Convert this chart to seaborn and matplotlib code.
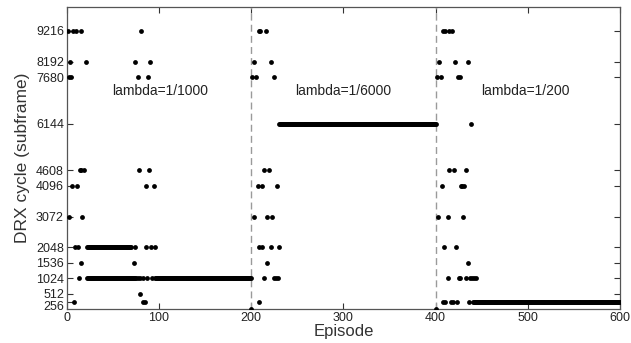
import numpy as np
import pandas as pd
import matplotlib
matplotlib.use("Agg")
import matplotlib.pyplot as plt
import matplotlib.transforms as mtransforms
import seaborn as sns

# ---- data: isolated episodes per DRX cycle value ----
ep_9216 = [1, 7, 10, 15, 81, 208, 210, 216, 408, 410, 415, 418]
ep_8192 = [4, 21, 74, 90, 203, 221, 404, 421, 435]
ep_7680 = [2, 5, 77, 88, 201, 205, 225, 402, 406, 424, 426]
ep_6144 = [438]
ep_4608 = [14, 16, 19, 78, 89, 214, 219, 415, 420, 433]
ep_4096 = [6, 11, 86, 95, 207, 212, 228, 407, 428, 429, 431]
ep_3072 = [3, 17, 203, 217, 223, 403, 413, 430]
ep_2048 = [9, 12, 74, 86, 91, 96, 209, 212, 222, 230, 409, 422]
ep_1536 = [16, 73, 217, 435]
ep_1024 = [13, 77, 80, 83, 87, 92, 214, 225, 227, 229,
           414, 425, 427, 433, 437, 439, 442, 444]
ep_512 = [80]
ep_256 = [8, 83, 85, 208, 408, 410, 417, 419, 423, 436]
ep_0 = [200, 400]

# constant stretches (converged policy)
run_start = [22, 22, 96, 230, 441]
run_end = [70, 75, 200, 400, 600]
run_value = [2048, 1024, 1024, 6144, 256]

y_ticks = [256, 512, 1024, 1536, 2048, 3072, 4096, 4608, 6144, 7680, 8192, 9216]
x_ticks = [0, 100, 200, 300, 400, 500, 600]
phase_bounds = [200, 400]
phase_labels = ["lambda=1/1000", "lambda=1/6000", "lambda=1/200"]
phase_label_x = [101, 300, 497]
phase_label_y = 7236

# ---- build table ----
rows = []
for val, eps in [(9216, ep_9216), (8192, ep_8192), (7680, ep_7680), (6144, ep_6144),
                 (4608, ep_4608), (4096, ep_4096), (3072, ep_3072), (2048, ep_2048),
                 (1536, ep_1536), (1024, ep_1024), (512, ep_512), (256, ep_256),
                 (0, ep_0)]:
    for e in eps:
        rows.append((e, val))
for s, e, v in zip(run_start, run_end, run_value):
    for ep in np.arange(s, e + 1):
        rows.append((ep, v))
df = pd.DataFrame(rows, columns=["Episode", "DRX"])

sns.set_style("ticks")
plt.rcParams["font.family"] = ["Liberation Sans", "DejaVu Sans"]

fig = plt.figure(figsize=(6.31, 3.43), dpi=100)
ax = fig.add_axes([0.1057, 0.0983, 0.8769, 0.8804])

for b in phase_bounds:
    ax.axvline(b, color="#9a9a9a", lw=1.0, ls=(0, (5, 3)), zorder=1)

sns.scatterplot(data=df, x="Episode", y="DRX", ax=ax, color="black",
                s=12, linewidth=0, legend=False, zorder=3)

ax.set_xlim(0, 600)
ax.set_ylim(0, 10000)
ax.set_xticks(x_ticks)
ax.set_yticks(y_ticks)
ax.set_yticklabels([str(t) for t in y_ticks])
ax.tick_params(direction="in", length=4, width=0.8, top=True, right=True,
               labelsize=9, colors="#333333", pad=2)
ax.tick_params(axis="both", labelcolor="#222222")
for sp in ax.spines.values():
    sp.set_color("#555555")
    sp.set_linewidth(0.9)

# nudge crowded 256 label downward a bit
lab = ax.get_yticklabels()[0]
lab.set_transform(lab.get_transform() + mtransforms.ScaledTranslation(0, -3 / 72, fig.dpi_scale_trans))

ax.set_xlabel("Episode", fontsize=12, color="#333333", labelpad=0)
ax.set_ylabel("DRX cycle (subframe)", fontsize=12.5, color="#333333", labelpad=4)

for t, x in zip(phase_labels, phase_label_x):
    ax.text(x, phase_label_y, t, fontsize=10, ha="center", va="center", color="#222222")

fig.savefig("out.png", dpi=100)
